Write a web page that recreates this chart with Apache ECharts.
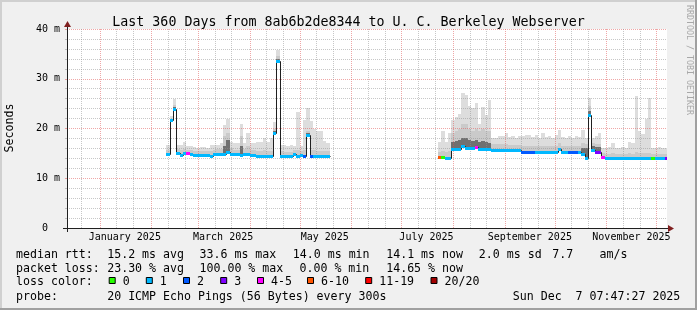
<!DOCTYPE html>
<html><head><meta charset="utf-8">
<script src="https://cdn.jsdelivr.net/npm/echarts@6/dist/echarts.min.js"></script>
<style>html,body{margin:0;padding:0;background:#f0f0f0;}#c{width:697px;height:310px;}</style>
</head><body><div id="c"></div>
<script>
// ---------------- data ----------------
const chartStart = '2024-12-12T07:47:27Z';
const chartEnd   = '2025-12-07T07:47:27Z';
const binDays = 2;

const blockAStart = '2025-02-10T00:00:00Z';
const medianA = [14.9,21.7,23.9,15.0,14.7,15.0,15.0,14.8,14.6,14.6,
                 14.6,14.6,14.6,14.5,14.9,14.9,14.9,14.9,15.3,14.8,
                 14.8,14.8,14.6,14.8,14.8,14.7,14.7,14.5,14.5,14.5,
                 14.5,14.5,19.0,33.6,14.5,14.5,14.5,14.5,14.9,14.5,
                 14.6,14.5,18.6,14.5,14.5,14.5,14.5,14.5,14.5];
const lossA   = [1,1,1,1,1,1,4,1,1,1, 1,1,1,1,1,1,1,1,1,1, 1,1,1,1,1,1,1,1,1,1,
                 1,1,1,1,1,1,1,1,1,1, 1,2,1,2,1,1,1,1,1];
const smokeTopA = [16.6,22.5,25.9,16.6,16.6,17.3,16.5,16.5,16.2,16.0,
                   16.2,16.3,16.0,16.7,16.7,16.7,17.0,20.7,22.0,17.3,
                   17.0,17.0,21.0,17.0,19.0,17.0,17.0,17.3,17.3,18.0,
                   17.3,18.0,21.4,35.8,16.7,16.7,16.5,16.7,16.5,23.4,
                   16.5,21.7,24.1,21.5,20.0,19.5,19.5,17.5,17.0];
const smokeMidA = [15.6,21.9,24.8,15.8,15.6,15.8,15.7,15.6,15.4,15.4,
                   15.4,15.5,15.4,15.5,15.7,15.8,15.8,18.5,19.0,16.0,
                   15.7,15.7,18.5,15.8,16.5,15.7,15.6,15.4,15.4,15.6,
                   15.4,15.5,20.0,34.6,15.4,15.3,15.3,15.3,15.6,15.6,
                   15.4,15.6,19.5,15.6,15.6,15.5,15.5,15.4,15.4];
const smokeDarkA = [null,null,24.3,null,null,null,null,null,null,null,
                    null,null,null,null,null,null,null,16.5,17.7,null,
                    null,null,16.5,null,null,null,null,null,null,null,
                    null,null,19.5,34.0,null,null,null,null,null,null,
                    null,null,19.0,null,null,null,null,null,null];

const blockBStart = '2025-07-23T00:00:00Z';
const medianB = [14.3,14.3,14.1,14.1,15.8,15.8,15.8,16.5,16.0,16.0,
                 16.0,16.2,15.9,15.9,15.9,15.9,15.7,15.7,15.7,15.7,
                 15.7,15.7,15.7,15.7,15.7,15.3,15.3,15.3,15.3,15.3,
                 15.3,15.3,15.3,15.3,15.3,15.3,15.8,15.3,15.3,15.3,
                 15.3,15.3,15.3,14.9,14.1,22.7,15.7,15.3,15.3,14.2,
                 14.0,14.0,14.0,14.0,14.0,14.0,14.0,14.0,14.0,14.0,
                 14.0,14.0,14.0,14.0,14.1,14.1,14.1,14.1,14.1];
const lossB   = [5,0,1,1,1,1,1,1,1,1, 1,4,1,1,1,1,1,1,1,1, 1,1,1,1,1,2,2,2,2,1,
                 1,1,1,1,1,1,1,1,1,2, 2,2,1,1,1,1,1,3,3,4, 1,1,1,1,1,1,1,1,1,1,
                 1,1,1,1,0,1,1,1,3];
const smokeTopB = [17.3,19.4,17.3,19.0,21.7,22.4,23.0,27.1,26.7,24.5,
                   24.1,25.1,21.0,24.4,22.7,25.7,18.0,18.0,18.4,18.4,
                   19.0,18.2,18.4,18.0,18.4,18.4,18.7,18.6,18.2,18.7,
                   18.0,19.0,18.2,18.4,18.0,18.6,19.7,18.2,18.0,18.5,
                   18.0,18.4,18.2,19.7,18.0,26.1,18.0,18.5,19.0,16.0,
                   16.0,16.3,17.1,16.0,16.0,16.2,16.0,17.3,17.0,26.5,
                   19.4,18.9,22.0,26.1,16.0,16.0,16.3,16.0,16.0];
const smokeMidB = [15.3,15.5,15.2,15.5,19.0,19.5,20.0,21.0,21.0,20.0,
                   19.5,20.0,19.5,20.0,19.5,19.5,16.8,16.8,16.8,16.8,
                   16.9,16.7,16.7,16.7,16.7,16.4,16.4,16.5,16.4,16.4,
                   16.4,16.5,16.4,16.4,16.4,16.5,17.0,16.4,16.4,16.4,
                   16.4,16.4,16.4,17.0,16.8,24.5,17.0,16.8,16.8,15.0,
                   14.8,14.8,15.0,14.8,14.8,14.8,14.8,15.0,14.9,15.2,
                   15.0,15.0,15.1,15.1,14.9,14.9,14.9,14.9,14.9];
const smokeDarkB = [null,null,null,null,17.3,17.5,17.7,18.0,18.0,17.7,
                    17.5,17.7,17.3,17.5,17.3,17.0,null,null,null,null,
                    null,null,null,null,null,null,null,null,null,null,
                    null,null,null,null,null,null,null,null,null,null,
                    null,null,null,16.0,16.0,23.5,16.5,16.3,16.3,null,
                    null,null,null,null,null,null,null,null,null,null,
                    null,null,null,null,null,null,null,null,null];

const monthStarts = ['2025-01-01','2025-02-01','2025-03-01','2025-04-01','2025-05-01','2025-06-01',
                     '2025-07-01','2025-08-01','2025-09-01','2025-10-01','2025-11-01','2025-12-01'];
const minorGridDates = ['2024-12-21','2025-01-11','2025-01-21','2025-02-11','2025-02-21','2025-03-11','2025-03-21',
                        '2025-04-11','2025-04-21','2025-05-11','2025-05-21','2025-06-11','2025-06-21',
                        '2025-07-11','2025-07-21','2025-08-11','2025-08-21','2025-09-11','2025-09-21',
                        '2025-10-11','2025-10-21','2025-11-11','2025-11-21'];
const xLabelDates = ['2025-01-16','2025-03-16','2025-05-16','2025-07-16','2025-09-16','2025-11-16'];
const xLabels = ['January 2025','March 2025','May 2025','July 2025','September 2025','November 2025'];
const yTicks = [0,10,20,30,40];
const yTickLabels = ['0','10 m','20 m','30 m','40 m'];

const lossLabels = ['0','1','2','3','4-5','6-10','11-19','20/20'];
const lossColors = ['#26ff00','#00b8ff','#0059ff','#7e00ff','#ff00ff','#ff5500','#ff0000','#a10000'];

const titleText = 'Last 360 Days from 8ab6b2de8344 to U. C. Berkeley Webserver';
const rttRow  = ['median rtt:','15.2 ms avg','33.6 ms max','14.0 ms min','14.1 ms now','2.0 ms sd','7.7','am/s'];
const lossRow = ['packet loss:','23.30 % avg','100.00 % max','0.00 % min','14.65 % now'];
const probeRow = ['probe:','20 ICMP Echo Pings (56 Bytes) every 300s','Sun Dec  7 07:47:27 2025'];

// ---------------- build ----------------
const DAY = 86400000;
const ts = s => Date.parse(s.length === 10 ? s + 'T00:00:00Z' : s);
const tStart = ts(chartStart), tEnd = ts(chartEnd);
const FONT = '"DejaVu Sans Mono", monospace';
const GRID = 'rgba(144,144,144,0.5)';
const MGRID = 'rgba(224,80,80,0.5)';
const smokeColors = ['#dddddd', '#cacaca', '#707070'];

function blockItems(startIso, med, loss, top, mid, dark) {
  const t0 = ts(startIso);
  return med.map((m, i) => {
    const a = t0 + i * binDays * DAY, b = a + binDays * DAY;
    const prev = i > 0 ? med[i - 1] : m;
    return [a, b, m, loss[i], top[i], mid[i], dark[i] == null ? 0 : dark[i], prev];
  });
}
const items = blockItems(blockAStart, medianA, lossA, smokeTopA, smokeMidA, smokeDarkA)
  .concat(blockItems(blockBStart, medianB, lossB, smokeTopB, smokeMidB, smokeDarkB));

const gridData = monthStarts.map(d => [ts(d), 0, 1]).concat(minorGridDates.map(d => [ts(d), 0, 0]));
const xLabelTimes = xLabelDates.map(ts);

function smokeRender(params, api) {
  const a = api.value(0), b = api.value(1), m = api.value(2);
  const x0 = Math.round(api.coord([a, m])[0]), x1 = Math.round(api.coord([b, m])[0]);
  const yM = Math.round(api.coord([a, m])[1]);
  const children = [];
  [api.value(4), api.value(5), api.value(6)].forEach((v, k) => {
    if (!(v > m)) return;
    const yT = Math.round(api.coord([a, v])[1]);
    children.push({type: 'rect', shape: {x: x0, y: yT, width: x1 - x0, height: yM - yT},
                   style: {fill: smokeColors[k]}});
  });
  return {type: 'group', children};
}
function lineRender(params, api) {
  const a = api.value(0), b = api.value(1), m = api.value(2), p = api.value(7);
  const x0 = Math.round(api.coord([a, m])[0]) + 0.5, x1 = Math.round(api.coord([b, m])[0]) + 0.5;
  const yM = Math.round(api.coord([a, m])[1]) + 0.5, yP = Math.round(api.coord([a, p])[1]) + 0.5;
  return {type: 'polyline', shape: {points: [[x0, yP], [x0, yM], [x1, yM]]},
          style: {stroke: '#202020', lineWidth: 1, fill: null}};
}
function bandRender(params, api) {
  const a = api.value(0), b = api.value(1), m = api.value(2), l = api.value(3);
  const x0 = Math.round(api.coord([a, m])[0]), x1 = Math.round(api.coord([b, m])[0]);
  const yM = Math.round(api.coord([a, m])[1]);
  return {type: 'rect', shape: {x: x0, y: yM - 1, width: x1 - x0, height: 3},
          style: {fill: lossColors[l]}};
}
function gridRender(params, api) {
  const t = api.value(0), major = api.value(2);
  const p0 = api.coord([t, 0]), p1 = api.coord([t, 40]);
  const x = Math.round(p0[0]) + 0.5;
  return {type: 'line', shape: {x1: x, y1: p0[1], x2: x, y2: p1[1]},
          style: {stroke: major ? MGRID : GRID, lineWidth: 1, lineDash: [1, 1]}};
}

// graphic (text / decoration)
const g = [];
const txt = (text, x, y, extra) => g.push(Object.assign({type: 'text', x, y,
  style: Object.assign({text, font: '11.6px ' + FONT, fill: '#000', verticalAlign: 'middle', align: 'left'}, extra || {})}));
[16, 107.2, 199.5, 292.8, 386.2, 478.8, 552.2, 599.5].forEach((x, i) => txt(rttRow[i], x, 254.5));
[16, 107.2, 199.5, 299.5, 386.2].forEach((x, i) => txt(lossRow[i], x, 268.5));
txt('loss color:', 16, 282);
[108.7, 145.8, 183, 220.2, 257, 307, 365.2, 430.5].forEach((x, i) => {
  g.push({type: 'rect', shape: {x: x + 0.5, y: 277.5, width: 6, height: 6},
          style: {fill: lossColors[i], stroke: '#000', lineWidth: 1}});
  txt(lossLabels[i], x + 14, 282);
});
[16, 107.2, 512.8].forEach((x, i) => txt(probeRow[i], x, 296.5));
g.push({type: 'text', x: 10, y: 128, rotation: Math.PI / 2,
  style: {text: 'Seconds', font: '11.6px ' + FONT, fill: '#000', align: 'center', verticalAlign: 'middle'}});
g.push({type: 'text', x: 689, y: 60, rotation: -Math.PI / 2,
  style: {text: 'RRDTOOL / TOBI OETIKER', font: '8.3px ' + FONT, fill: '#a8a8a8', align: 'center', verticalAlign: 'middle'}});
// axis lines and arrows
g.push({type: 'line', shape: {x1: 63, y1: 228.5, x2: 669, y2: 228.5}, style: {stroke: '#202020', lineWidth: 1}, z: 20});
g.push({type: 'line', shape: {x1: 67.5, y1: 232, x2: 67.5, y2: 24}, style: {stroke: '#202020', lineWidth: 1}, z: 20});
g.push({type: 'polygon', shape: {points: [[668, 225], [674, 228.5], [668, 232]]}, style: {fill: '#802020'}, z: 21});
g.push({type: 'polygon', shape: {points: [[64, 27], [67.5, 21], [71, 27]]}, style: {fill: '#802020'}, z: 21});
// 3D frame
g.push({type: 'rect', shape: {x: 0, y: 0, width: 697, height: 2}, style: {fill: '#d0d0d0'}});
g.push({type: 'rect', shape: {x: 0, y: 0, width: 2, height: 310}, style: {fill: '#d0d0d0'}});
g.push({type: 'rect', shape: {x: 0, y: 308, width: 697, height: 2}, style: {fill: '#a0a0a0'}});
g.push({type: 'rect', shape: {x: 695, y: 0, width: 2, height: 310}, style: {fill: '#a0a0a0'}});

const chart = echarts.init(document.getElementById('c'), null, {renderer: 'canvas'});
chart.setOption({
  animation: false,
  backgroundColor: '#f0f0f0',
  title: {text: titleText, left: 'center', top: 11,
          textStyle: {fontFamily: FONT, fontSize: 13.3, fontWeight: 'normal', color: '#000'}},
  grid: {left: 67, right: 30, top: 29, bottom: 82, show: true, backgroundColor: '#ffffff', borderWidth: 0},
  xAxis: {
    type: 'value', min: tStart, max: tEnd, z: 7,
    splitLine: {show: false}, axisTick: {show: false},
    axisLine: {show: false},
    axisLabel: {customValues: xLabelTimes, formatter: v => xLabels[xLabelTimes.indexOf(v)] || '',
                fontFamily: FONT, fontSize: 10, color: '#000', margin: 4}
  },
  yAxis: {
    type: 'value', min: 0, max: 40, interval: 10, z: 6,
    axisLine: {show: false},
    axisTick: {show: true, length: 2, lineStyle: {color: MGRID}},
    minorTick: {show: true, splitNumber: 5, length: 2, lineStyle: {color: GRID}},
    splitLine: {show: true, lineStyle: {color: MGRID, width: 1, type: [1, 1]}},
    minorSplitLine: {show: true, lineStyle: {color: GRID, width: 1, type: [1, 1]}},
    axisLabel: {showMinLabel: true, showMaxLabel: true, margin: 7, fontFamily: FONT, fontSize: 10, color: '#000',
      formatter: v => { const s = yTickLabels[yTicks.indexOf(v)]; return s.indexOf(' ') < 0 ? s + '\u00a0\u00a0' : s; }}
  },
  graphic: g,
  series: [
    {type: 'custom', name: 'smoke', z: 2, clip: true, silent: true, data: items,
     encode: {x: [0, 1], y: [2, 4]}, renderItem: smokeRender},
    {type: 'custom', name: 'vgrid', z: 6, clip: true, silent: true, data: gridData,
     encode: {x: 0, y: 1}, renderItem: gridRender},
    {type: 'custom', name: 'median line', z: 8, clip: true, silent: true, data: items,
     encode: {x: [0, 1], y: [2, 7]}, renderItem: lineRender},
    {type: 'custom', name: 'median loss', z: 9, clip: true, silent: true, data: items,
     encode: {x: [0, 1], y: 2}, renderItem: bandRender}
  ]
});
</script></body></html>
